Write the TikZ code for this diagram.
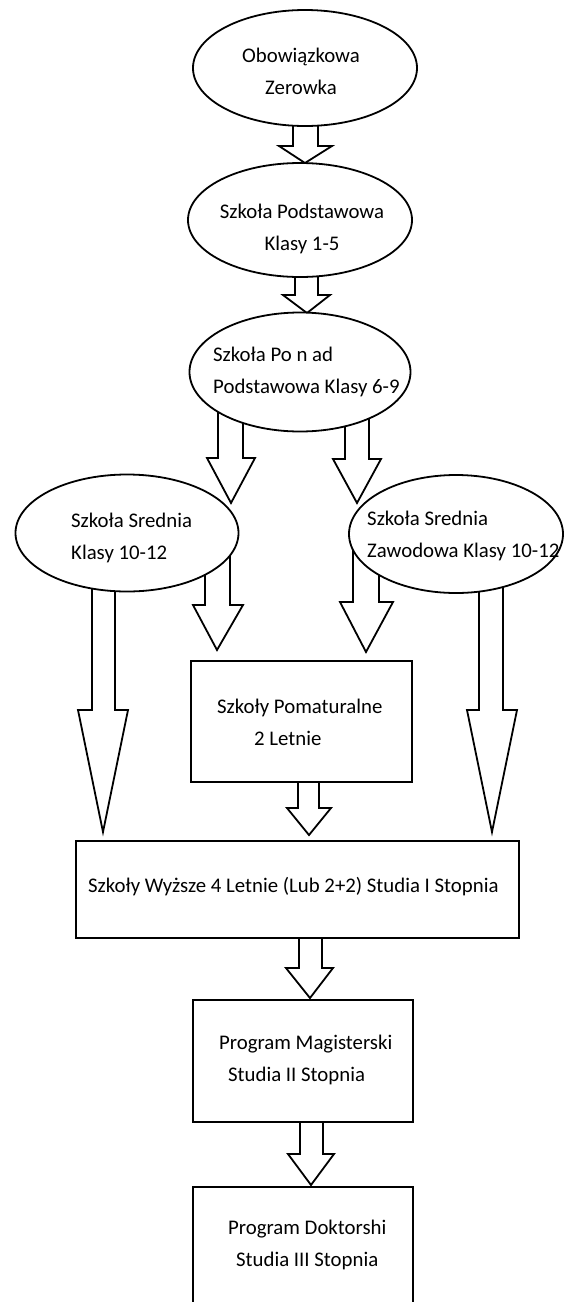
\documentclass[tikz,border=0pt]{standalone}
\usepackage{fontspec}
\setmainfont{Carlito}
\usetikzlibrary{shapes.geometric}
\newcommand{\blockarr}[8]{%
  \draw[blk] (#1,#3) -- (#1,#4) -- (#5,#4) -- (#7,#8) -- (#6,#4) -- (#2,#4) -- (#2,#3);}
\tikzset{
  ell/.style={draw, line width=1.8pt, ellipse, fill=white, inner sep=0pt},
  box/.style={draw, line width=2.2pt, rectangle, fill=white, inner sep=0pt},
  lbl/.style={font=\fontsize{20.8}{31.5}\selectfont, inner sep=0pt, align=left, anchor=base west},
  clbl/.style={font=\fontsize{20.8}{31.5}\selectfont, inner sep=0pt, align=center, anchor=base},
  blk/.style={draw, line width=1.8pt, line join=miter},
}
\begin{document}
\begin{tikzpicture}[x=1pt, y=-1pt]
\clip (0,0) rectangle (565,1302);
\fill[white] (0,0) rectangle (565,1302);
% block arrows (drawn first, ellipses cover their tops)
\blockarr{293}{318}{68}{146}{279}{332}{305}{163}
\blockarr{295}{318}{220}{295}{283}{330}{307}{313}
\blockarr{218}{243}{372}{458}{207}{255}{231}{503}
\blockarr{345}{369}{372}{459}{333}{381}{357}{503}
\blockarr{92}{115}{533}{710}{78}{128}{103}{832}
\blockarr{205}{230}{533}{605}{193}{243}{217}{650}
\blockarr{353}{379}{534}{602}{340}{393}{366}{652}
\blockarr{479}{503}{534}{710}{467}{517}{492}{832}
\blockarr{298}{319}{782}{808}{287}{331}{309}{835}
\blockarr{299}{322}{938}{968}{286}{333}{310}{998}
\blockarr{300}{323}{1122}{1154}{288}{334}{311}{1185}
% ellipses
\node[ell, minimum width=224pt, minimum height=116pt] (e1) at (305,68) {};
\node[ell, minimum width=224pt, minimum height=114pt] (e2) at (300,220) {};
\node[ell, minimum width=221pt, minimum height=119pt] (e3) at (300,372) {};
\node[ell, minimum width=223pt, minimum height=117pt] (e4) at (127,533) {};
\node[ell, minimum width=214pt, minimum height=118pt] (e5) at (456,534) {};
% boxes
\node[box, minimum width=221pt, minimum height=121pt] (b1) at (301.5,721.5) {};
\node[box, minimum width=443pt, minimum height=97pt] (b2) at (297.5,889.5) {};
\node[box, minimum width=220pt, minimum height=122pt] (b3) at (303,1061) {};
\node[box, minimum width=220pt, minimum height=140pt] (b4) at (303,1257) {};
% labels (anchored at the baseline of their last line)
\node[clbl] (t1) at (301,94) {Obowiązkowa\\Zerowka};
\node[clbl] (t2) at (302,250) {Szkoła Podstawowa\\Klasy 1-5};
\node[lbl] (t3) at (213,393) {Szkoła Po n ad\\Podstawowa Klasy 6-9};
\node[lbl] (t4) at (71,559) {Szkoła Srednia\\Klasy 10-12};
\node[lbl] (t5) at (367,557) {Szkoła Srednia\\Zawodowa Klasy 10-12};
\node[lbl] (t6) at (217,745) {Szkoły Pomaturalne\\\hspace*{37pt}2 Letnie};
\node[lbl] (t7) at (88,892) {Szkoły Wyższe 4 Letnie (Lub 2+2) Studia I Stopnia};
\node[lbl] (t8) at (219,1081) {Program Magisterski\\\hspace*{9pt}Studia II Stopnia};
\node[lbl] (t9) at (228,1266) {Program Doktorshi\\\hspace*{8pt}Studia III Stopnia};
\end{tikzpicture}
\end{document}
